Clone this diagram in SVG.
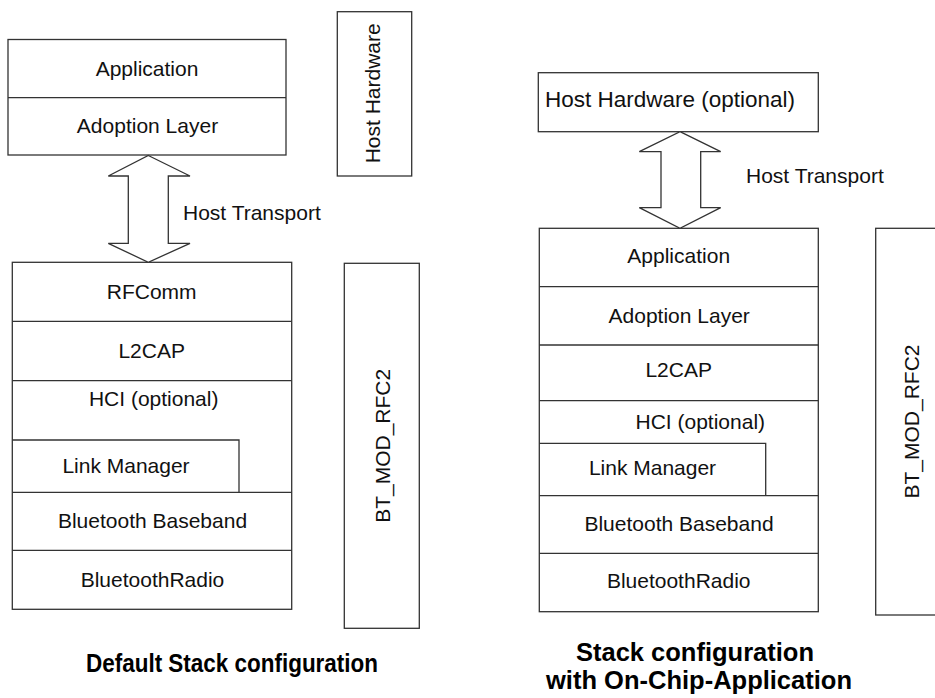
<svg xmlns="http://www.w3.org/2000/svg" width="935" height="698" viewBox="0 0 935 698">
<style>
  .bx{fill:#fff;stroke:#333;stroke-width:1.3}
  .ln{fill:none;stroke:#333;stroke-width:1.3}
  .t{font-family:"Liberation Sans",Arial,sans-serif;font-size:21px;fill:#111;text-anchor:middle}
  .ts{font-family:"Liberation Sans",Arial,sans-serif;font-size:21px;fill:#111}
  .cap{font-family:"Liberation Sans",Arial,sans-serif;font-size:25.5px;font-weight:bold;fill:#000;text-anchor:middle}
  .arr{fill:#fff;stroke:#333;stroke-width:1.3;stroke-linejoin:miter}
</style>
<rect width="935" height="698" fill="#fff"/>

<!-- Left: host stack -->
<g id="left-host-stack">
  <rect class="bx" x="8" y="39.5" width="278" height="115.5"/>
  <line class="ln" x1="8" y1="97.7" x2="286" y2="97.7"/>
  <text class="t" x="147" y="76">Application</text>
  <text class="t" x="147.5" y="132.7">Adoption Layer</text>
</g>

<g id="left-host-hardware">
  <rect class="bx" x="337.3" y="11.7" width="74.4" height="164.3"/>
  <text class="t" transform="translate(380,93.3) rotate(-90)">Host Hardware</text>
</g>

<!-- Left: module stack -->
<g id="left-module-stack">
  <rect class="bx" x="12.3" y="262.3" width="279.4" height="347"/>
  <line class="ln" x1="12.3" y1="321.3" x2="291.7" y2="321.3"/>
  <line class="ln" x1="12.3" y1="380.7" x2="291.7" y2="380.7"/>
  <polyline class="ln" points="12.3,440 239,440 239,492.3"/>
  <line class="ln" x1="12.3" y1="492.3" x2="291.7" y2="492.3"/>
  <line class="ln" x1="12.3" y1="550.3" x2="291.7" y2="550.3"/>
  <text class="t" x="151.7" y="299.3">RFComm</text>
  <text class="t" x="151.7" y="358.3">L2CAP</text>
  <text class="t" x="153.7" y="406">HCI (optional)</text>
  <text class="t" x="126" y="472.7">Link Manager</text>
  <text class="t" x="152.5" y="528.3">Bluetooth Baseband</text>
  <text class="t" x="152.5" y="586.7">BluetoothRadio</text>
</g>

<g id="left-module-label">
  <rect class="bx" x="344.3" y="263.3" width="75" height="365"/>
  <text class="t" transform="translate(390,445.8) rotate(-90)">BT_MOD_RFC2</text>
</g>

<!-- Right: host hardware -->
<g id="right-host-hardware">
  <rect class="bx" x="538.3" y="72.7" width="280" height="59"/>
  <text class="t" x="670" y="107" style="font-size:22.5px">Host Hardware (optional)</text>
</g>

<!-- Right: module stack -->
<g id="right-module-stack">
  <rect class="bx" x="539.3" y="228.3" width="279" height="383.4"/>
  <line class="ln" x1="539.3" y1="286.7" x2="818.3" y2="286.7"/>
  <line class="ln" x1="539.3" y1="345" x2="818.3" y2="345"/>
  <line class="ln" x1="539.3" y1="400.7" x2="818.3" y2="400.7"/>
  <polyline class="ln" points="539.3,443.3 765.7,443.3 765.7,495.7"/>
  <line class="ln" x1="539.3" y1="495.7" x2="818.3" y2="495.7"/>
  <line class="ln" x1="539.3" y1="553.3" x2="818.3" y2="553.3"/>
  <text class="t" x="678.7" y="263.3">Application</text>
  <text class="t" x="679.2" y="322.7">Adoption Layer</text>
  <text class="t" x="678.7" y="377.3">L2CAP</text>
  <text class="t" x="700.3" y="429.3">HCI (optional)</text>
  <text class="t" x="652.5" y="475">Link Manager</text>
  <text class="t" x="679" y="531">Bluetooth Baseband</text>
  <text class="t" x="678.7" y="588.3">BluetoothRadio</text>
</g>

<g id="right-module-label">
  <rect class="bx" x="875.7" y="228.3" width="70" height="386.7"/>
  <text class="t" transform="translate(919,421.5) rotate(-90)">BT_MOD_RFC2</text>
</g>

<!-- Connectors -->
<g id="connectors">
  <polygon class="arr" points="148.3,155.5 190,176 168.3,176 168.3,243.3 190,243.3 148.3,262.3 108.3,243.3 128.3,243.3 128.3,176 108.3,176"/>
  <text class="ts" x="183" y="220">Host Transport</text>
  <polygon class="arr" points="680,131.7 720.7,151.7 700.7,151.7 700.7,207.7 720.7,207.7 680,228.3 639.3,207.7 661,207.7 661,151.7 639.3,151.7"/>
  <text class="ts" x="746" y="183.3">Host Transport</text>
</g>

<!-- Captions -->
<g id="captions">
  <text class="cap" x="232" y="672" textLength="292" lengthAdjust="spacingAndGlyphs">Default Stack configuration</text>
  <text class="cap" x="695" y="661">Stack configuration</text>
  <text class="cap" x="699" y="689">with On-Chip-Application</text>
</g>
</svg>
